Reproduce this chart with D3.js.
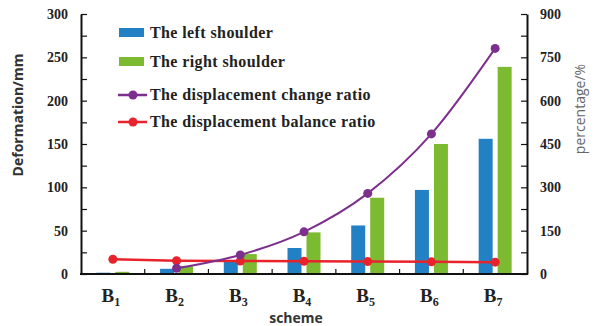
<!DOCTYPE html>
<html>
<head>
<meta charset="utf-8">
<script src="https://cdn.jsdelivr.net/npm/d3@7"></script>
<style>
  html, body { margin: 0; padding: 0; background: #fff; }
  svg { display: block; }
</style>
</head>
<body>
<svg id="chart" width="597" height="326"></svg>
<script>
// Schemes B1..B7
const schemes = ["1", "2", "3", "4", "5", "6", "7"];
// Shoulder deformation (mm), left axis
const leftShoulder = [1.5, 6, 15, 30, 56, 97, 156];
const rightShoulder = [2.5, 9, 23, 48, 88, 150, 239];
// Ratios (%), right axis; the change ratio starts at B2
const changeRatio = [null, 20, 66, 146, 279, 485, 781];
const balanceRatio = [51, 46, 45, 44, 43, 42, 41];
// Axis ticks
const leftTicks = [0, 50, 100, 150, 200, 250, 300];
const rightTicks = [0, 150, 300, 450, 600, 750, 900];

const legendItems = [
  { label: "The left shoulder", type: "bar", color: "#2280c4" },
  { label: "The right shoulder", type: "bar", color: "#7cba31" },
  { label: "The displacement change ratio", type: "line", color: "#7d2f8e" },
  { label: "The displacement balance ratio", type: "line", color: "#e8232b" }
];

const svg = d3.select("#chart");
const m = { left: 81, right: 527, top: 14, bottom: 274 };
const serif = "'Liberation Serif', 'Times New Roman', serif";
const sans = "'Open Sans', 'Liberation Sans', Arial, sans-serif";

const x = d3.scaleBand().domain(schemes).range([m.left, m.right]);
const yL = d3.scaleLinear().domain([0, 300]).range([m.bottom, m.top]);
const yR = d3.scaleLinear().domain([0, 900]).range([m.bottom, m.top]);

const barW = 14, gap = 2.5;

// Bars
const g = svg.append("g");
g.selectAll("rect.left").data(leftShoulder).enter().append("rect")
  .attr("x", (d, i) => x(schemes[i]) + x.bandwidth() / 2 - gap - barW)
  .attr("y", d => yL(d)).attr("width", barW)
  .attr("height", d => yL(0) - yL(d)).attr("fill", "#2280c4");
g.selectAll("rect.right").data(rightShoulder).enter().append("rect")
  .attr("x", (d, i) => x(schemes[i]) + x.bandwidth() / 2 + gap)
  .attr("y", d => yL(d)).attr("width", barW)
  .attr("height", d => yL(0) - yL(d)).attr("fill", "#7cba31");

// Lines
const cx = i => x(schemes[i]) + x.bandwidth() / 2;
const changePts = changeRatio.map((v, i) => [i, v]).filter(p => p[1] != null);
const balancePts = balanceRatio.map((v, i) => [i, v]);

g.append("path").datum(balancePts)
  .attr("d", d3.line().x(p => cx(p[0])).y(p => yR(p[1])))
  .attr("fill", "none").attr("stroke", "#e8232b").attr("stroke-width", 2.5);
g.append("path").datum(changePts)
  .attr("d", d3.line().curve(d3.curveMonotoneX).x(p => cx(p[0])).y(p => yR(p[1])))
  .attr("fill", "none").attr("stroke", "#7d2f8e").attr("stroke-width", 2);

g.selectAll("circle.bal").data(balancePts).enter().append("circle")
  .attr("cx", p => cx(p[0])).attr("cy", p => yR(p[1])).attr("r", 4.5)
  .attr("fill", "#e8232b");
g.selectAll("circle.chg").data(changePts).enter().append("circle")
  .attr("cx", p => cx(p[0])).attr("cy", p => yR(p[1])).attr("r", 4.5)
  .attr("fill", "#7d2f8e");

// Axes
const axisStyle = sel => {
  sel.select(".domain").attr("stroke", "#111").attr("stroke-width", 2);
  sel.selectAll(".tick line").attr("stroke", "#111").attr("stroke-width", 1.2);
  sel.selectAll("text").attr("font-family", serif).attr("font-weight", "bold")
    .attr("font-size", 14).attr("fill", "#222");
};

const leftAxis = svg.append("g").attr("transform", `translate(${m.left},0)`)
  .call(d3.axisLeft(yL).tickValues(d3.range(0, 301, 25)).tickSize(-6).tickSizeOuter(0)
    .tickPadding(13).tickFormat(d => leftTicks.includes(d) ? d : ""));
axisStyle(leftAxis);

const rightAxis = svg.append("g").attr("transform", `translate(${m.right},0)`)
  .call(d3.axisRight(yR).tickValues(d3.range(0, 901, 75)).tickSize(-6).tickSizeOuter(0)
    .tickPadding(13).tickFormat(d => rightTicks.includes(d) ? d : ""));
axisStyle(rightAxis);
rightAxis.selectAll("text").attr("x", 13);
leftAxis.selectAll("text").attr("x", -13);

// Bottom axis: ticks at band boundaries
const bottom = svg.append("g").attr("transform", `translate(0,${m.bottom})`);
bottom.append("line").attr("x1", m.left - 1).attr("x2", m.right + 1)
  .attr("stroke", "#111").attr("stroke-width", 2);
bottom.selectAll("line.tk").data(schemes.slice(1)).enter().append("line")
  .attr("x1", d => x(d)).attr("x2", d => x(d)).attr("y1", 0).attr("y2", -5)
  .attr("stroke", "#111").attr("stroke-width", 1.2);

const xl = svg.append("g");
schemes.forEach((s, i) => {
  const t = xl.append("text").attr("x", cx(i) - 2).attr("y", 302)
    .attr("text-anchor", "middle").attr("font-family", serif)
    .attr("font-weight", "bold").attr("font-size", 19).attr("fill", "#222");
  t.append("tspan").text("B");
  t.append("tspan").attr("font-size", 12).attr("dy", 4).text(s);
});

// Axis titles
svg.append("text").attr("x", (m.left + m.right) / 2 - 8).attr("y", 323)
  .attr("text-anchor", "middle").attr("font-family", sans).attr("font-weight", "bold")
  .attr("font-size", 14).attr("fill", "#333").text("scheme");
svg.append("text").attr("transform", "translate(23,115) rotate(-90)")
  .attr("text-anchor", "middle").attr("font-family", sans).attr("font-weight", "bold")
  .attr("font-size", 14).attr("fill", "#333").text("Deformation/mm");
svg.append("text").attr("transform", "translate(585,109) rotate(-90)")
  .attr("text-anchor", "middle").attr("font-family", sans)
  .attr("font-size", 14).attr("fill", "#666").text("percentage/%");

// Legend
const legendY = [33, 62, 95, 122];
const lg = svg.append("g");
legendItems.forEach((it, i) => {
  const y = legendY[i];
  if (it.type === "bar") {
    lg.append("rect").attr("x", 119).attr("y", y - 5).attr("width", 25).attr("height", 9)
      .attr("fill", it.color);
  } else {
    lg.append("line").attr("x1", 118).attr("x2", 147).attr("y1", y).attr("y2", y)
      .attr("stroke", it.color).attr("stroke-width", 2.5);
    lg.append("circle").attr("cx", 133).attr("cy", y).attr("r", 4.5).attr("fill", it.color);
  }
  lg.append("text").attr("x", 150).attr("y", y + 5).attr("font-family", serif)
    .attr("font-weight", "bold").attr("font-size", 16).attr("letter-spacing", 0.4)
    .attr("fill", "#222").text(it.label);
});
</script>
</body>
</html>
